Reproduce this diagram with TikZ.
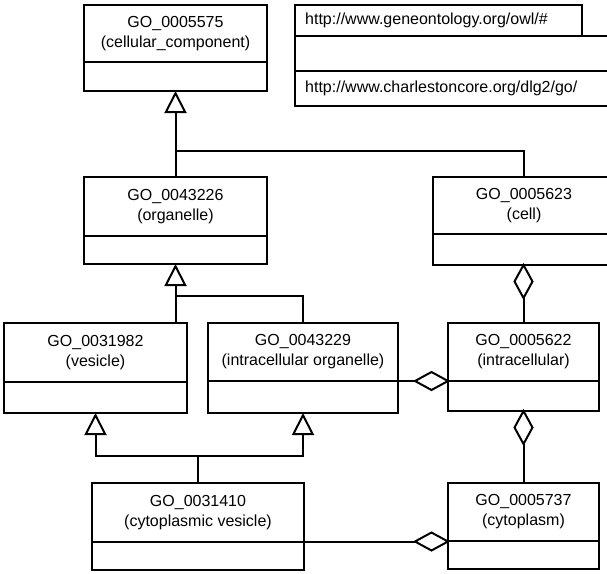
\documentclass[tikz,border=0pt]{standalone}
\usepackage{fontspec}
\setmainfont{Liberation Sans}
\usetikzlibrary{arrows.meta,shapes.geometric}

% one UML class: name, left, top, right, divider, bottom, first line, second line
\newcommand\umlclass[8]{%
  \node[classbox, anchor=north west,
        minimum width={(#4-#2)*1pt}, minimum height={(#6-#3)*1pt}] (#1) at (#2,#3) {};
  \draw[divline] (#2,#5) -- (#4,#5);
  \node[classtext] (#1-name) at ({(#2+#4)/2},{(#3+#5)/2}) {#7\\#8};
}

\tikzset{
  classbox/.style={draw=black, line width=2.2pt, fill=white, inner sep=0pt, outer sep=0pt, rectangle},
  divline/.style={line width=2pt},
  classtext/.style={inner sep=0pt, align=center, font=\fontsize{16}{20}\selectfont},
  urltext/.style={inner sep=0pt, anchor=west, font=\fontsize{16}{20}\selectfont},
  conn/.style={line width=2pt, line join=miter},
  gen/.style={conn, -{Triangle[open, length=22pt, width=22pt, line width=2pt]}},
  aggr/.style={diamond, draw=black, fill=white, line width=2pt, inner sep=0pt, outer sep=0pt},
  hagg/.style={aggr, minimum width=33pt, minimum height=18pt},
  vagg/.style={aggr, minimum width=18pt, minimum height=33pt},
}

\begin{document}
\begin{tikzpicture}[x=1pt, y=-1pt]
  \useasboundingbox[fill=white] (0,0) rectangle (607,573);
  \clip (0,0) rectangle (607,573);

  % namespace package
  \node[classbox, anchor=north west, minimum width=287pt, minimum height=31pt] (pkgtab) at (295,5) {};
  \node[classbox, anchor=north west, minimum width=330pt, minimum height=70pt] (pkg) at (295,36) {};
  \draw[divline] (295,71) -- (625,71);
  \node[urltext] (url1) at (305,20.5) {http://www.geneontology.org/owl/\#};
  \node[urltext] (url2) at (305,88.5) {http://www.charlestoncore.org/dlg2/go/};

  % classes
  \umlclass{cc}{84}{5}{267}{62}{91}{GO\_0005575}{(cellular\_component)}
  \umlclass{org}{84}{177}{267}{236}{264}{GO\_0043226}{(organelle)}
  \umlclass{cell}{433}{177}{615}{234}{265}{GO\_0005623}{(cell)}
  \umlclass{ves}{4}{323}{187}{382}{413}{GO\_0031982}{(vesicle)}
  \umlclass{io}{208}{323}{398}{381}{413}{GO\_0043229}{(intracellular organelle)}
  \umlclass{ic}{448}{323}{599}{381}{411}{GO\_0005622}{(intracellular)}
  \umlclass{cv}{92}{483}{304}{542}{570}{GO\_0031410}{(cytoplasmic vesicle)}
  \umlclass{cyt}{448}{483}{599}{541}{569}{GO\_0005737}{(cytoplasm)}

  % junction points of the generalisation trees
  \coordinate (j1) at (175.5,151);
  \coordinate (j2) at (175.5,296);
  \coordinate (j3) at (95.5,456);
  \coordinate (j4) at (303,456);

  % generalisations
  \draw[gen] (org.north) -- (cc.south);
  \draw[conn] (cell.north -| ic.north) |- (j1);
  \draw[gen] (ves.north -| org.south) -- (org.south);
  \draw[conn] (io.north) |- (j2);
  \draw[gen] (cv.north) |- (j3) -- (ves.south);
  \draw[gen] (cv.north) |- (j4) -- (io.south);

  % aggregations
  \node[vagg] (a1) at (523.5,281.5) {};
  \draw[conn] (a1.south) -- (ic.north);
  \node[hagg] (a2) at (431.5,381) {};
  \draw[conn] (a2.west) -- (a2.west -| io.east);
  \node[vagg] (a3) at (523.5,427.5) {};
  \draw[conn] (a3.south) -- (cyt.north);
  \node[hagg] (a4) at (431.5,541.5) {};
  \draw[conn] (a4.west) -- (a4.west -| cv.east);
\end{tikzpicture}
\end{document}
